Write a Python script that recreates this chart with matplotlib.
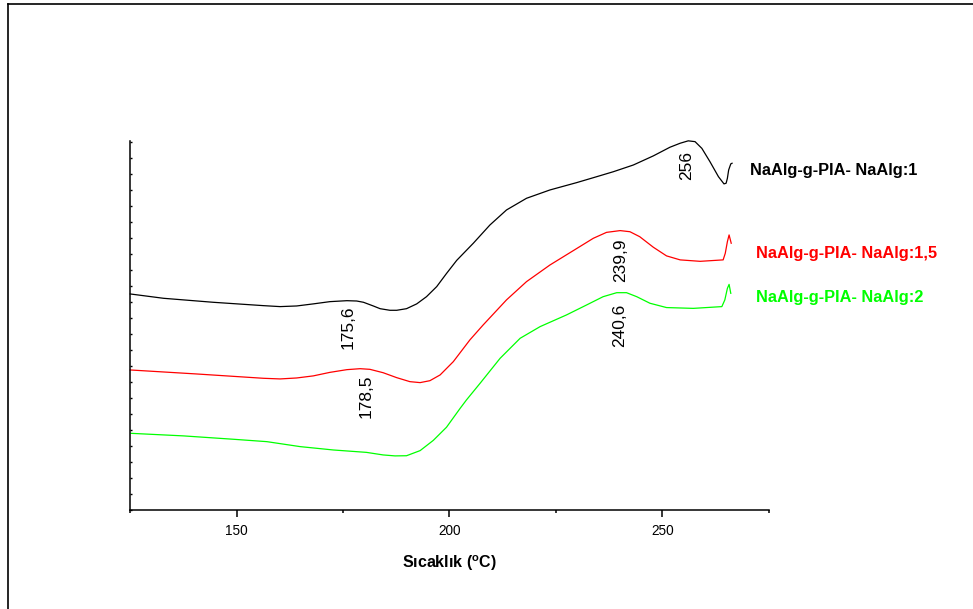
import matplotlib
matplotlib.use("Agg")
import matplotlib.pyplot as plt
from matplotlib.lines import Line2D
from matplotlib.ticker import MultipleLocator, NullFormatter

plt.rcParams['font.family'] = ['Liberation Sans', 'DejaVu Sans']
plt.rcParams['mathtext.fontset'] = 'custom'
plt.rcParams['mathtext.rm'] = 'Liberation Sans:bold'
plt.rcParams['mathtext.it'] = 'Liberation Sans:bold'
plt.rcParams['mathtext.bf'] = 'Liberation Sans:bold'

# DSC traces (temperature in °C, heat flow in arbitrary offset units)
temp_1 = [125.0, 132.8, 144.5, 156.3, 160.2, 164.1, 168.0, 171.9, 175.9, 178.2,
          179.8, 182.1, 183.7, 186.0, 187.6, 189.9, 192.3, 194.6, 197.0, 199.3,
          201.7, 205.6, 209.5, 213.4, 218.1, 223.6, 229.9, 234.6, 238.5, 243.2,
          247.9, 251.8, 254.2, 256.1, 257.7, 259.3, 261.2, 263.2, 264.5, 265.0,
          265.3, 265.6, 266.1, 266.4]
flow_1 = [13.5, 13.23, 12.98, 12.77, 12.71, 12.75, 12.88, 13.02, 13.08, 13.06,
          12.98, 12.75, 12.58, 12.48, 12.48, 12.58, 12.88, 13.33, 13.96, 14.78,
          15.6, 16.67, 17.81, 18.75, 19.48, 20.0, 20.46, 20.83, 21.14, 21.56,
          22.13, 22.67, 22.92, 23.07, 23.02, 22.6, 21.77, 20.83, 20.38, 20.42,
          20.73, 21.25, 21.63, 21.67]

temp_15 = [125.0, 140.6, 156.3, 160.2, 164.1, 168.0, 171.9, 175.9, 179.0, 181.3,
           184.4, 187.6, 190.7, 193.1, 195.4, 197.8, 200.9, 204.8, 207.9, 213.4,
           218.1, 223.6, 229.1, 233.8, 236.9, 240.1, 242.4, 244.7, 247.9, 251.0,
           254.2, 258.9, 264.3, 264.8, 265.3, 265.7, 266.2]
flow_15 = [8.75, 8.5, 8.23, 8.19, 8.25, 8.38, 8.6, 8.77, 8.83, 8.79,
           8.58, 8.27, 8.02, 7.96, 8.08, 8.44, 9.27, 10.63, 11.56, 13.13,
           14.27, 15.31, 16.21, 16.98, 17.35, 17.46, 17.39, 17.08, 16.42, 15.88,
           15.63, 15.54, 15.63, 16.04, 16.77, 17.19, 16.67]

temp_2 = [125.2, 137.5, 149.2, 157.1, 164.9, 172.7, 180.5, 184.4, 187.2, 189.9,
          193.1, 196.2, 199.3, 202.5, 204.0, 207.2, 211.9, 216.6, 221.3, 227.5,
          232.2, 236.1, 239.3, 241.6, 244.0, 247.1, 251.0, 257.3, 264.0, 264.7,
          265.3, 265.7, 266.1]
flow_2 = [4.79, 4.63, 4.42, 4.27, 3.96, 3.75, 3.6, 3.44, 3.38, 3.39,
          3.71, 4.35, 5.17, 6.35, 6.88, 7.92, 9.48, 10.73, 11.46, 12.19,
          12.81, 13.33, 13.58, 13.58, 13.33, 12.92, 12.65, 12.6, 12.71, 13.13,
          13.85, 14.1, 13.54]

series_names = ["NaAlg-g-PIA- NaAlg:1", "NaAlg-g-PIA- NaAlg:1,5", "NaAlg-g-PIA- NaAlg:2"]
series_colors = ["#000000", "#FF0000", "#00FF00"]

# peak annotations: (label, temperature, vertical position)
peak_labels = ["175,6", "178,5", "256", "239,9", "240,6"]
peak_temps = [176.3, 180.5, 255.8, 240.2, 239.9]
peak_pos = [11.4, 7.09, 21.53, 15.6, 11.53]

name_temps = [270.6, 272.0, 272.0]
name_pos = [21.19, 16.0, 13.25]

fig = plt.figure(figsize=(9.73, 6.09), dpi=100)
ax = fig.add_axes([0.1339, 0.1626, 0.6561, 0.6064])

for t, f, c in zip([temp_1, temp_15, temp_2], [flow_1, flow_15, flow_2], series_colors):
    ax.plot(t, f, color=c, lw=0.9, clip_on=False, solid_joinstyle='round')

for lab, t, p in zip(peak_labels, peak_temps, peak_pos):
    ax.text(t, p, lab, rotation=90, ha='center', va='center', fontsize=12.5, color='black')

for name, t, p, c in zip(series_names, name_temps, name_pos, series_colors):
    ax.text(t, p, name, ha='left', va='center', fontsize=11.8, fontweight='bold', color=c)

ax.set_xlim(125, 275)
ax.set_ylim(0, 23.08)

for s in ['top', 'right']:
    ax.spines[s].set_visible(False)
for s in ['left', 'bottom']:
    ax.spines[s].set_linewidth(1.1)

ax.xaxis.set_major_locator(MultipleLocator(50))
ax.xaxis.set_minor_locator(MultipleLocator(25))
ax.tick_params(axis='x', which='major', direction='out', length=5, width=1.1, pad=5, labelsize=9.8)
ax.tick_params(axis='x', which='minor', direction='out', length=2.5, width=1.1)

ax.yaxis.set_major_locator(MultipleLocator(1))
ax.yaxis.set_major_formatter(NullFormatter())
ax.tick_params(axis='y', which='major', direction='in', length=1.5, width=1.0)

ax.set_xlabel(r"Sıcaklık ($^{\mathrm{o}}$C)", fontsize=11.5, fontweight='bold', labelpad=11)

# outer frame lines
fig.add_artist(Line2D([8 / 973, 8 / 973], [0, 1 - 4 / 609], color='black', lw=1.2,
                      transform=fig.transFigure))
fig.add_artist(Line2D([8 / 973, 1], [1 - 4 / 609, 1 - 4 / 609], color='black', lw=1.2,
                      transform=fig.transFigure))

fig.savefig("out.png", dpi=100)
